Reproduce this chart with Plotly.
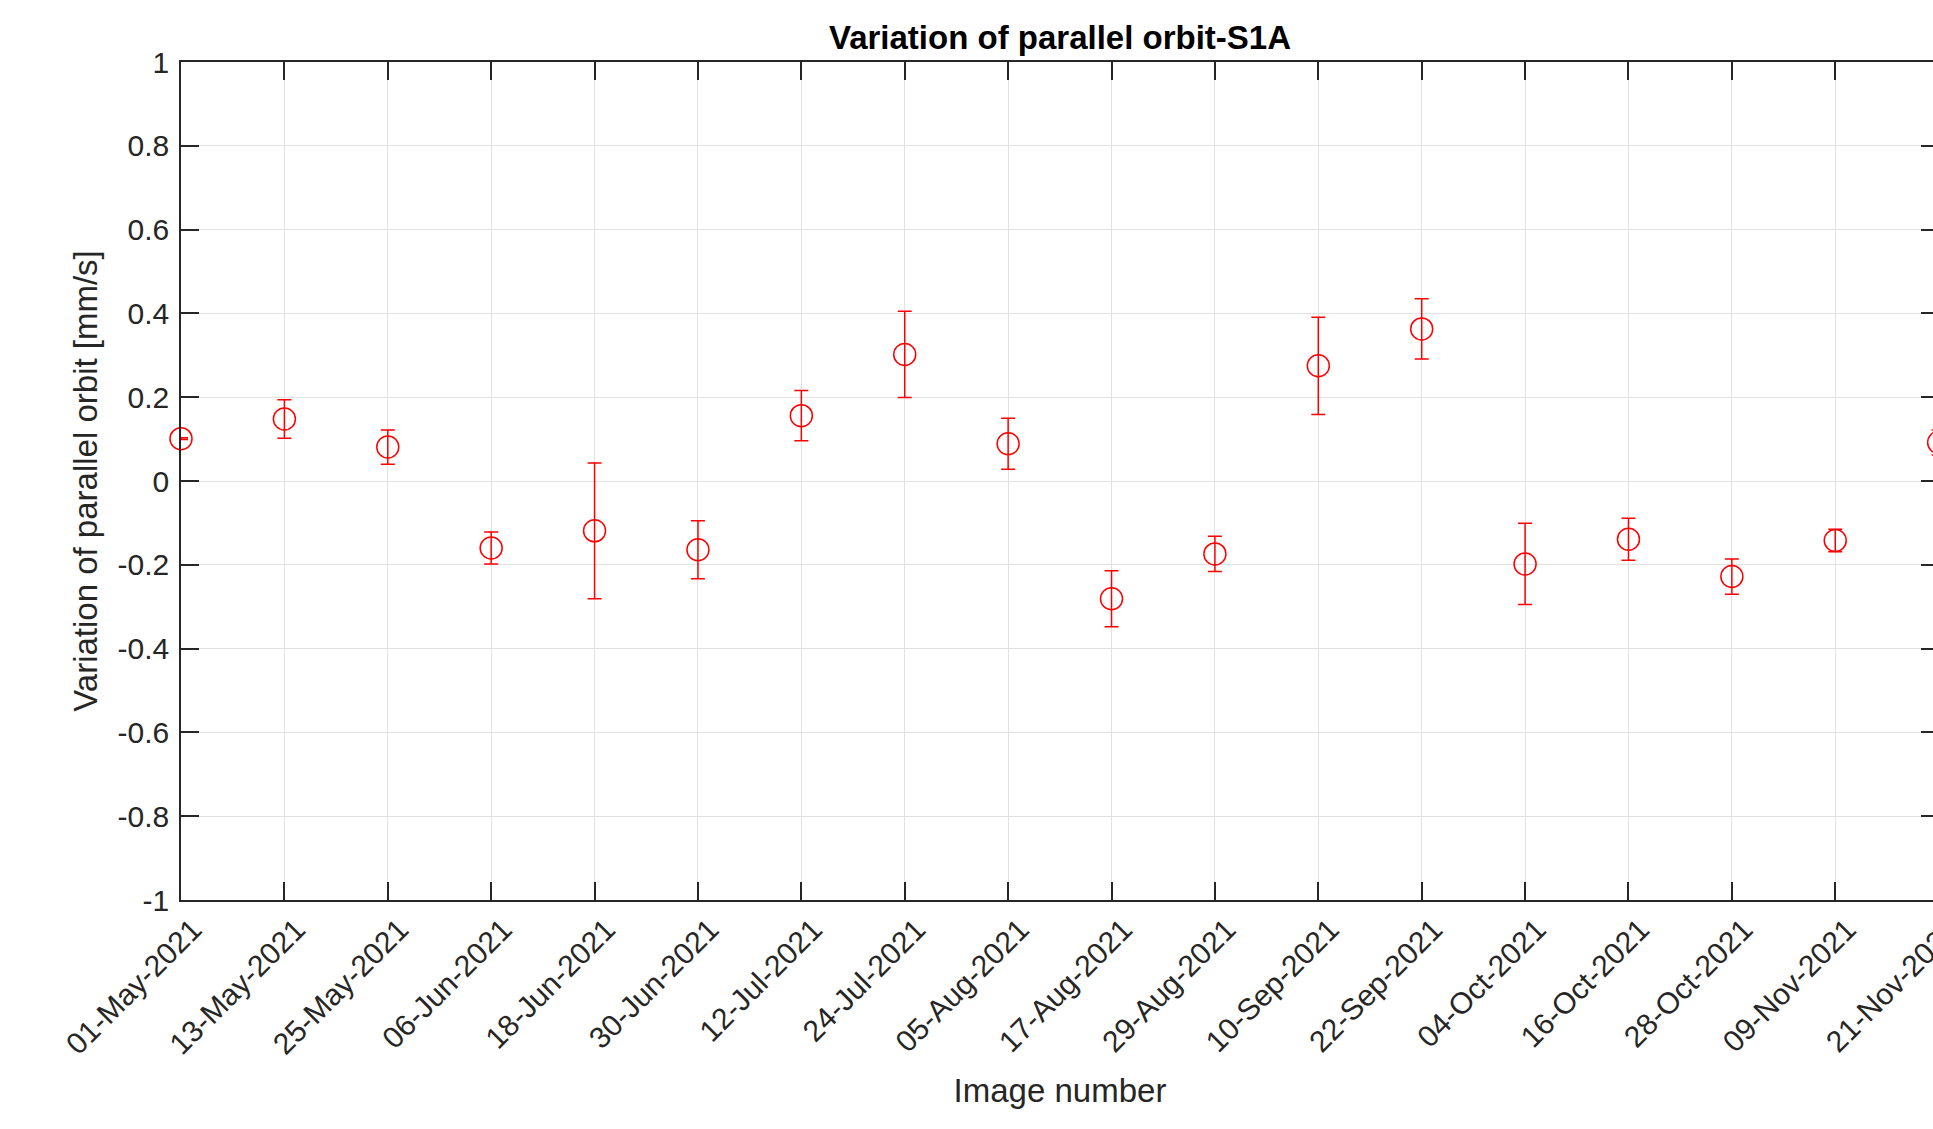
import plotly.graph_objects as go

# ---- data ----
dates = ["2021-05-01", "2021-05-13", "2021-05-25", "2021-06-06", "2021-06-18",
         "2021-06-30", "2021-07-12", "2021-07-24", "2021-08-05", "2021-08-17",
         "2021-08-29", "2021-09-10", "2021-09-22", "2021-10-04", "2021-10-16",
         "2021-10-28", "2021-11-09", "2021-11-21"]
values = [0.101, 0.148, 0.081, -0.160, -0.119, -0.164, 0.156, 0.302, 0.089,
          -0.281, -0.174, 0.275, 0.363, -0.198, -0.139, -0.228, -0.142, 0.092]
errors = [0.002, 0.046, 0.041, 0.038, 0.162, 0.069, 0.060, 0.103, 0.061,
          0.067, 0.042, 0.116, 0.072, 0.097, 0.050, 0.042, 0.027, 0.030]
y_tickvals = [1, 0.8, 0.6, 0.4, 0.2, 0, -0.2, -0.4, -0.6, -0.8, -1]
y_ticktext = ["1", "0.8", "0.6", "0.4", "0.2", "0", "-0.2", "-0.4", "-0.6", "-0.8", "-1"]
x_range = ["2021-05-01", "2021-11-21 01:00"]

FONT = "Liberation Sans, Arial, sans-serif"
AX = "#262626"
GRID = "#e2e2e2"

fig = go.Figure()
fig.add_trace(go.Scatter(
    x=dates, y=values, mode="markers",
    marker=dict(symbol="circle-open", size=22, color="#ff0000",
                line=dict(width=1.5, color="#ff0000")),
    error_y=dict(type="data", array=errors, visible=True,
                 color="#ff0000", thickness=1.5, width=7),
    cliponaxis=False, showlegend=False,
))

fig.update_layout(
    width=1945, height=1129,
    margin=dict(l=181, r=6, t=62, b=229, autoexpand=False),
    paper_bgcolor="white", plot_bgcolor="white",
    font=dict(family=FONT, color=AX),
    title=dict(text="<b>Variation of parallel orbit-S1A</b>",
               x=1060 / 1945, xanchor="center", xref="container",
               y=1 - 37 / 1129, yanchor="middle", yref="container",
               font=dict(size=33, color="#000000", family=FONT)),
)
fig.update_xaxes(
    type="date", range=x_range, automargin=False,
    tickvals=dates, tickformat="%d-%b-%Y", tickangle=-45,
    tickfont=dict(size=30, color=AX, family=FONT),
    ticks="inside", ticklen=18, tickwidth=1.5, tickcolor=AX,
    showline=True, linecolor=AX, linewidth=1.5, mirror="ticks",
    showgrid=True, gridcolor=GRID, gridwidth=1, zeroline=False,
    ticklabelstandoff=-2, ticklabelshift=12, ticklabeloverflow="allow",
    title=dict(text="Image number", font=dict(size=33, color=AX, family=FONT),
               standoff=19),
)
fig.update_yaxes(
    range=[-1, 1], tickvals=y_tickvals, ticktext=y_ticktext, automargin=False,
    tickfont=dict(size=30, color=AX, family=FONT),
    ticks="inside", ticklen=18, tickwidth=1.5, tickcolor=AX,
    showline=True, linecolor=AX, linewidth=1.5, mirror="ticks",
    showgrid=True, gridcolor=GRID, gridwidth=1, zeroline=False,
    ticklabelstandoff=4,
    title=dict(text="Variation of parallel orbit [mm/s]",
               font=dict(size=33, color=AX, family=FONT), standoff=10),
)

fig.write_html(
    "out.html",
    config={"displayModeBar": False},
    post_script="document.documentElement.style.overflow='hidden';"
                "document.body.style.overflow='hidden';"
                "document.body.style.margin='0';",
)
